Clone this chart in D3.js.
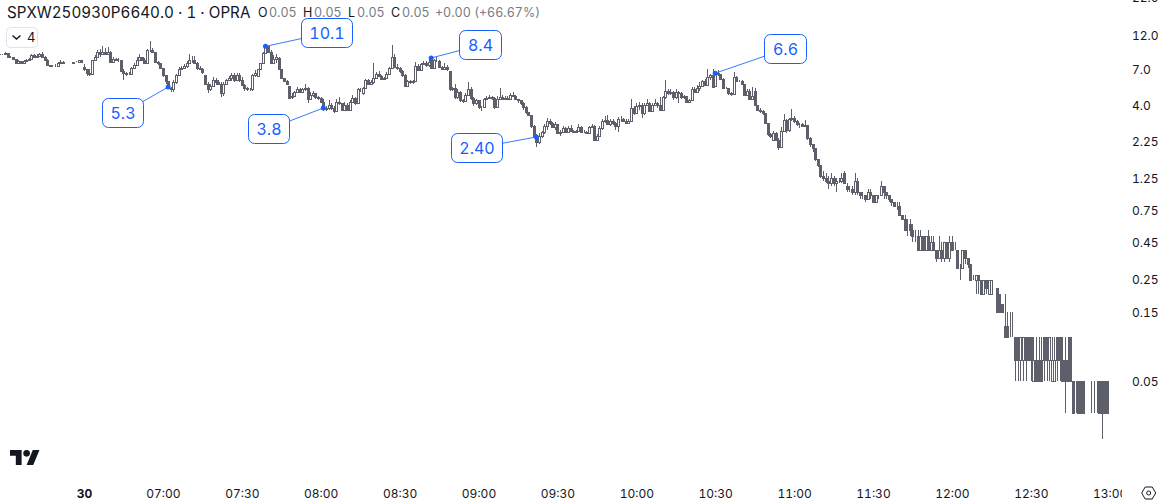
<!DOCTYPE html>
<html>
<head>
<meta charset="utf-8">
<script src="https://cdn.jsdelivr.net/npm/d3@7"></script>
<style>
  html, body { margin: 0; padding: 0; background: #fff; }
  svg { display: block; font-family: Inter, "Noto Sans", sans-serif; font-variant-numeric: tabular-nums; }
</style>
</head>
<body>
<div id="chart"></div>
<script>
// --- Data (1 minute bars, previous session tail first) ---
const firstBarMinute = -32; // bar 0 sits 32 minutes left of the 06:30 open

const opens = [
  8.9,8.9,8.9,9.1,8.6,8.5,8.3,7.8,8.0,7.8,
  8.0,8.2,8.3,8.8,8.6,8.7,8.9,8.6,8.2,7.5,
  7.4,7.4,7.4,7.8,7.9,7.8,7.7,7.7,7.8,7.9,
  7.9,8.1,7.3,7.0,6.6,6.5,8.1,8.6,9.3,8.9,
  9.2,9.0,9.2,7.9,8.3,8.1,8.2,6.8,6.6,6.5,
  6.5,7.2,7.5,8.2,8.5,8.2,7.8,9.5,9.6,9.3,
  7.9,7.7,7.2,6.4,5.8,5.2,5.1,5.7,6.4,7.0,
  7.2,7.4,7.7,8.2,8.1,7.8,7.2,7.1,6.4,5.6,
  5.1,5.4,5.9,5.7,5.6,4.8,5.6,5.9,6.1,6.4,
  5.9,6.4,5.9,5.5,5.2,5.1,5.1,6.4,6.3,7.0,
  7.7,9.1,10.1,9.3,7.7,8.3,8.4,7.0,6.1,5.8,
  5.4,4.5,4.6,4.9,5.1,4.9,5.1,5.2,4.4,4.7,
  4.8,4.55,4.45,4.2,3.75,3.8,4.0,3.8,3.6,4.2,
  4.1,3.7,4.0,3.7,4.2,4.45,4.1,5.1,4.8,5.2,
  5.9,5.6,5.7,6.1,6.5,6.35,6.0,6.1,6.5,7.2,
  8.5,7.3,7.2,6.8,6.4,5.4,5.8,5.7,5.8,7.4,
  6.9,7.6,7.8,7.5,8.4,7.2,8.1,8.0,7.3,7.0,
  7.3,6.8,5.1,5.2,4.55,4.9,4.3,4.25,4.7,5.1,
  4.45,4.1,4.3,3.85,3.85,4.4,4.45,4.5,4.45,3.85,
  4.4,4.55,4.4,4.45,4.4,4.7,4.6,4.4,4.3,4.1,
  3.85,3.55,3.4,2.85,2.45,2.2,2.45,2.6,2.85,3.1,
  3.0,2.8,2.95,2.55,2.6,2.75,2.6,2.75,2.65,2.6,
  2.65,2.8,2.6,2.6,2.55,2.8,2.85,2.3,2.45,2.75,
  3.1,3.15,2.95,3.1,3.0,2.85,3.2,3.2,3.1,3.0,
  3.1,3.8,3.5,3.9,4.0,3.5,4.0,4.1,3.6,4.0,
  4.1,4.0,3.7,4.5,5.0,4.8,4.9,4.5,4.9,4.8,
  4.5,4.6,4.2,4.3,5.1,4.9,5.2,5.4,5.8,5.5,
  6.2,6.4,5.4,6.6,6.5,6.0,5.2,5.2,4.8,4.75,
  6.2,5.85,5.8,5.6,4.7,5.0,4.4,5.0,4.0,3.7,
  3.65,3.5,3.0,2.5,2.3,2.55,2.3,2.05,2.65,3.15,
  2.7,3.2,3.25,3.1,2.95,2.95,2.85,2.9,2.35,2.15,
  2.0,1.7,1.55,1.3,1.25,1.2,1.15,1.25,1.15,1.2,
  1.2,1.35,1.1,1.05,1.05,1.0,1.2,1.0,0.95,0.95,
  0.9,1.0,0.95,0.85,0.95,0.95,1.1,1.0,0.95,0.9,
  0.85,0.8,0.8,0.7,0.65,0.55,0.6,0.55,0.5,0.5,
  0.4,0.5,0.4,0.5,0.4,0.45,0.4,0.35,0.4,0.35,
  0.45,0.35,0.45,0.4,0.4,0.3,0.3,0.4,0.35,0.32,
  0.25,0.25,0.27,0.25,0.2,0.25,0.2,0.2,0.25,0.22,
  0.2,0.17,0.12,0.12,0.1,0.1,0.1,0.1,0.07,0.07,
  0.1,0.1,0.1,0.05,0.07,0.07,0.07,0.1,0.1,0.07,
  0.05,0.05,0.1,0.1,0.07,0.07,0.07,0.1,0.05,0.05,
  0.05,0.05,0.05,0.03,0.03,0.03,0.05,0.03,0.05,0.05,
  0.05,0.05
];

const highs = [
  9.0,9.0,9.3,9.1,8.7,8.5,8.3,8.1,8.0,8.1,
  8.3,8.4,9.0,9.0,8.9,9.1,9.2,8.7,8.3,7.5,
  7.5,7.6,7.9,8.1,8.0,7.8,7.7,7.8,7.9,8.0,
  8.2,8.1,7.6,7.1,7.0,8.2,8.8,9.6,9.7,10.1,
  9.8,10.0,9.4,8.6,8.4,8.4,8.2,7.0,6.7,6.7,
  7.3,7.7,8.6,8.9,8.6,8.4,9.7,11.0,9.9,9.3,
  8.0,7.7,7.2,6.4,5.8,5.3,5.9,6.5,7.3,7.4,
  7.6,8.0,8.9,8.7,8.7,7.9,7.4,7.2,6.4,5.7,
  5.6,6.2,6.1,5.9,5.7,5.7,6.0,6.3,6.6,6.6,
  6.6,6.6,6.2,5.6,5.3,5.2,6.5,6.9,7.1,7.8,
  9.3,10.3,10.1,9.5,8.8,9.0,8.5,7.1,6.1,5.9,
  5.4,4.8,5.0,5.3,5.2,5.2,5.6,5.3,4.9,5.0,
  4.8,4.6,4.5,4.4,3.9,4.3,4.1,3.9,4.4,4.5,
  4.1,4.2,4.1,4.3,4.7,4.5,5.2,5.2,5.3,6.0,
  6.0,5.9,7.7,6.7,6.8,6.4,6.2,6.7,7.3,10.3,
  9.0,7.6,7.3,6.9,6.5,5.9,5.9,5.9,7.9,7.6,
  7.8,8.0,8.0,8.3,8.6,8.3,8.6,8.1,7.4,7.7,
  7.5,6.8,5.3,5.6,5.1,5.0,4.4,4.8,5.7,5.3,
  4.5,4.4,4.3,3.95,4.45,4.6,4.7,4.6,4.5,4.6,
  5.2,4.7,4.6,4.6,4.8,4.9,4.7,4.4,4.3,4.2,
  3.9,3.55,3.4,2.9,2.5,2.55,2.65,2.95,3.25,3.2,
  3.05,3.05,2.95,2.7,2.85,2.8,2.85,2.9,2.7,2.7,
  2.95,2.85,2.7,2.65,2.85,2.95,2.9,2.5,2.85,3.2,
  3.35,3.4,3.2,3.2,3.05,3.3,3.35,3.25,3.2,3.2,
  4.4,3.9,4.1,4.2,4.1,4.1,4.35,4.2,4.1,4.4,
  4.2,4.5,4.6,5.95,5.1,5.1,5.0,5.1,5.0,4.9,
  4.7,4.6,4.4,5.3,5.3,5.5,5.7,5.9,6.0,7.1,
  6.5,7.1,6.8,6.9,6.5,6.1,5.3,5.2,4.9,6.7,
  6.3,5.9,5.9,5.6,5.1,5.1,5.3,5.2,4.0,3.8,
  3.7,3.5,3.0,2.55,2.65,2.6,2.35,2.8,3.45,3.2,
  3.25,3.75,3.35,3.15,3.0,3.0,3.15,2.9,2.4,2.15,
  2.0,1.7,1.55,1.4,1.35,1.3,1.35,1.3,1.25,1.25,
  1.35,1.4,1.15,1.1,1.1,1.35,1.25,1.0,1.0,0.95,
  1.05,1.05,0.95,0.95,0.95,1.2,1.1,1.0,0.95,0.9,
  0.85,0.85,0.85,0.7,0.7,0.65,0.65,0.6,0.55,0.55,
  0.55,0.5,0.5,0.55,0.5,0.5,0.4,0.5,0.45,0.45,
  0.45,0.5,0.5,0.45,0.4,0.32,0.4,0.4,0.35,0.32,
  0.27,0.27,0.27,0.25,0.25,0.25,0.25,0.25,0.25,0.22,
  0.2,0.17,0.2,0.15,0.15,0.15,0.1,0.1,0.1,0.1,
  0.1,0.1,0.1,0.1,0.1,0.1,0.1,0.1,0.1,0.1,
  0.1,0.1,0.1,0.1,0.1,0.1,0.1,0.1,0.05,0.05,
  0.05,0.05,0.05,0.03,0.03,0.05,0.05,0.05,0.05,0.05,
  0.05,0.05
];

const lows = [
  8.8,8.8,8.8,8.6,8.4,8.2,7.7,7.7,7.6,7.7,
  7.9,8.1,8.3,8.5,8.5,8.6,8.5,8.1,7.4,7.3,
  7.3,7.3,7.4,7.7,7.7,7.7,7.7,7.7,7.8,7.9,
  7.8,7.8,6.8,6.3,6.3,6.5,8.0,8.5,8.5,8.8,
  8.8,8.9,7.7,7.8,8.0,7.9,6.7,5.9,6.3,6.4,
  6.5,7.1,7.4,8.1,8.0,7.6,7.8,9.3,9.1,7.8,
  7.5,7.0,6.2,5.6,5.1,4.9,4.9,5.6,6.3,6.9,
  7.0,7.2,7.6,7.8,7.6,6.9,6.9,6.5,5.5,4.8,
  5.0,5.3,5.5,5.5,4.55,4.6,5.5,5.8,5.8,5.7,
  5.8,5.7,5.4,5.0,5.0,5.0,5.0,6.2,6.2,6.9,
  7.6,8.9,9.1,7.6,7.6,7.7,7.0,6.0,5.8,5.5,
  4.4,4.35,4.5,4.8,4.8,4.8,5.0,4.1,4.3,4.5,
  4.4,4.3,4.1,3.65,3.65,3.7,3.7,3.5,3.6,4.0,
  3.6,3.7,3.7,3.7,4.2,4.0,4.1,4.9,4.7,5.1,
  5.5,5.5,5.6,6.0,6.2,5.9,5.9,6.0,6.5,7.1,
  7.2,6.9,6.6,6.2,5.3,5.3,5.6,5.6,5.8,6.8,
  6.9,7.5,7.3,7.3,7.0,7.1,7.9,7.2,6.9,6.9,
  6.8,5.0,5.0,4.4,4.4,4.2,4.1,4.2,4.6,4.3,
  3.95,4.0,3.75,3.65,3.8,4.3,4.4,4.3,3.75,3.8,
  4.3,4.3,4.3,4.3,4.3,4.5,4.3,4.1,4.0,3.7,
  3.45,3.35,2.75,2.35,2.05,2.15,2.35,2.5,2.7,2.9,
  2.75,2.7,2.5,2.45,2.55,2.55,2.55,2.6,2.55,2.55,
  2.6,2.55,2.55,2.5,2.5,2.75,2.25,2.25,2.4,2.7,
  3.0,2.9,2.85,2.9,2.7,2.6,3.05,3.05,2.95,2.95,
  3.05,3.4,3.45,3.7,3.25,3.4,3.9,3.55,3.55,3.9,
  3.8,3.6,3.65,4.4,4.7,4.7,4.3,4.4,4.1,4.4,
  4.35,4.1,4.1,4.25,4.8,4.8,5.0,5.3,5.4,5.5,
  5.9,5.2,5.3,6.3,5.9,5.2,5.1,4.7,4.6,4.7,
  5.7,5.7,5.5,4.6,4.6,4.3,4.3,3.95,3.65,3.5,
  3.4,2.95,2.45,2.35,2.25,2.3,1.95,2.0,2.6,2.55,
  2.6,3.1,3.0,2.85,2.75,2.8,2.8,2.3,2.05,1.9,
  1.65,1.5,1.25,1.2,1.15,1.05,1.1,1.1,1.0,1.15,
  1.15,1.15,1.0,1.0,0.95,0.95,0.95,0.9,0.9,0.85,
  0.9,0.9,0.85,0.85,0.9,0.95,0.9,0.9,0.85,0.8,
  0.8,0.75,0.7,0.65,0.55,0.5,0.5,0.45,0.45,0.4,
  0.4,0.4,0.4,0.4,0.4,0.4,0.33,0.35,0.33,0.33,
  0.35,0.33,0.4,0.4,0.3,0.25,0.3,0.32,0.3,0.25,
  0.25,0.2,0.2,0.2,0.2,0.2,0.2,0.2,0.25,0.15,
  0.15,0.15,0.1,0.1,0.1,0.1,0.05,0.05,0.05,0.05,
  0.05,0.07,0.05,0.05,0.05,0.05,0.05,0.05,0.05,0.05,
  0.05,0.05,0.05,0.05,0.05,0.03,0.05,0.05,0.03,0.03,
  0.03,0.03,0.03,0.03,0.03,0.03,0.03,0.03,0.03,0.02,
  0.03,0.03
];

const closes = [
  8.9,8.9,9.1,8.6,8.5,8.3,7.8,8.0,7.8,8.0,
  8.2,8.3,8.8,8.6,8.7,8.9,8.6,8.2,7.5,7.4,
  7.4,7.4,7.8,7.9,7.8,7.7,7.7,7.8,7.9,7.9,
  8.1,7.9,7.0,6.6,6.5,8.1,8.6,9.3,8.9,9.2,
  9.0,9.2,7.9,8.3,8.1,8.2,6.8,6.6,6.5,6.5,
  7.2,7.5,8.2,8.5,8.2,7.8,9.5,9.6,9.3,7.9,
  7.7,7.2,6.4,5.8,5.2,5.1,5.7,6.4,7.0,7.2,
  7.4,7.7,8.2,8.1,7.8,7.2,7.1,6.7,5.6,5.1,
  5.4,5.9,5.7,5.6,4.8,5.6,5.9,6.1,6.4,5.9,
  6.4,5.9,5.5,5.2,5.1,5.1,6.4,6.6,7.0,7.7,
  9.1,10.1,9.3,7.7,8.3,8.6,7.1,6.1,5.8,5.6,
  4.45,4.6,4.9,5.1,4.9,5.1,5.2,4.4,4.7,4.8,
  4.55,4.45,4.2,3.75,3.8,4.0,3.8,3.6,4.2,4.1,
  3.7,4.0,3.7,4.2,4.45,4.1,5.1,5.1,5.2,5.9,
  5.6,5.7,6.1,6.5,6.35,6.0,6.1,6.5,7.2,8.5,
  7.3,7.2,6.8,6.4,5.4,5.8,5.7,5.8,7.4,6.9,
  7.6,7.8,7.5,7.9,7.2,8.1,8.2,7.3,7.0,7.3,
  7.0,5.1,5.2,4.55,4.9,4.3,4.25,4.7,5.1,4.45,
  4.1,4.3,3.85,3.85,4.4,4.45,4.5,4.45,3.85,4.4,
  4.55,4.4,4.45,4.4,4.7,4.6,4.4,4.3,4.1,3.85,
  3.55,3.4,2.85,2.45,2.2,2.45,2.6,2.85,3.1,3.0,
  2.8,2.95,2.55,2.6,2.75,2.6,2.75,2.65,2.6,2.65,
  2.8,2.6,2.6,2.55,2.8,2.85,2.3,2.45,2.75,3.1,
  3.15,2.95,3.1,3.0,2.85,3.2,3.2,3.1,3.0,3.1,
  3.8,3.5,3.9,4.0,3.5,4.0,4.1,3.6,4.0,4.1,
  4.0,3.7,4.5,5.0,4.8,4.9,4.5,4.9,4.8,4.5,
  4.6,4.2,4.3,5.1,4.9,5.2,5.4,5.8,5.5,6.2,
  6.4,5.3,6.6,6.5,6.0,5.2,5.2,4.8,4.75,6.2,
  5.85,5.8,5.6,4.7,5.0,4.4,4.6,4.0,3.7,3.65,
  3.5,3.0,2.5,2.45,2.55,2.3,2.05,2.65,3.15,2.7,
  3.2,3.25,3.1,2.95,2.95,2.85,2.9,2.35,2.15,2.0,
  1.7,1.55,1.3,1.25,1.2,1.15,1.25,1.15,1.2,1.2,
  1.25,1.15,1.05,1.05,1.0,1.2,1.0,0.95,0.95,0.9,
  1.0,0.95,0.85,0.95,0.95,1.1,1.0,0.95,0.9,0.85,
  0.8,0.8,0.7,0.65,0.55,0.55,0.55,0.5,0.5,0.4,
  0.5,0.4,0.5,0.4,0.45,0.4,0.35,0.4,0.35,0.45,
  0.35,0.45,0.4,0.4,0.3,0.3,0.4,0.35,0.32,0.25,
  0.25,0.27,0.25,0.2,0.25,0.22,0.25,0.25,0.25,0.15,
  0.15,0.15,0.1,0.1,0.1,0.1,0.07,0.07,0.1,0.1,
  0.07,0.07,0.07,0.07,0.05,0.05,0.05,0.07,0.07,0.1,
  0.07,0.07,0.07,0.07,0.05,0.05,0.05,0.05,0.03,0.05,
  0.03,0.03,0.03,0.03,0.03,0.03,0.05,0.03,0.03,0.03,
  0.03,0.03
];

const priceTicks = [22, 12, 7, 4, 2.25, 1.25, 0.75, 0.45, 0.25, 0.15, 0.05];
const timeTicks = [0, 30, 60, 90, 120, 150, 180, 210, 240, 270, 300, 330, 360, 390];
const timeLabels = ["30", "07:00", "07:30", "08:00", "08:30", "09:00", "09:30", "10:00", "10:30", "11:00", "11:30", "12:00", "12:30", "13:00"];

const calloutBars = [64, 101, 123, 164, 204, 272];
const calloutPrices = [5.3, 10.1, 3.8, 8.4, 2.40, 6.6];
const calloutLabels = ["5.3", "10.1", "3.8", "8.4", "2.40", "6.6"];

const headerTitle = "SPXW250930P6640.0 · 1 · OPRA";
const ohlcLabels = ["O", "H", "L", "C"];
const ohlcValues = ["0.05", "0.05", "0.05", "0.05"];
const changeLabel = "+0.00 (+66.67%)";

// --- Layout ---
const width = 1168, height = 504;
const candleColor = "#5d606b";
const blue = "#1760ff";
const ink = "#131722";
// box centre relative to the marker, box width
const calloutDx = [-46, 61.5, -54.5, 49, -59.5, 70];
const calloutDy = [25, -13.5, 20.5, -13, 10.5, -25];
const calloutW = [41, 51, 41, 42, 51, 42];
const calloutH = 29;

const svg = d3.select("#chart").append("svg").attr("width", width).attr("height", height);

const x = d3.scaleLinear().domain([0, 390]).range([84, 1109.7]);
const y = d3.scaleLog().domain([0.05, 12]).range([381, 35.5]);
const barX = i => Math.round(x(firstBarMinute + i));

// --- Candles ---
const bars = d3.range(closes.length);
const candles = svg.append("g").selectAll("g").data(bars).join("g");

candles.append("line")
  .attr("x1", i => barX(i) + 0.5).attr("x2", i => barX(i) + 0.5)
  .attr("y1", i => Math.round(y(highs[i])))
  .attr("y2", i => Math.round(y(lows[i])))
  .attr("stroke", candleColor).attr("shape-rendering", "crispEdges");

candles.append("rect")
  .attr("x", i => barX(i) - 0.5)
  .attr("width", 2)
  .attr("y", i => Math.round(y(Math.max(opens[i], closes[i]))) + 0.5)
  .attr("height", i => Math.round(y(Math.min(opens[i], closes[i]))) - Math.round(y(Math.max(opens[i], closes[i]))))
  .attr("fill", i => closes[i] >= opens[i] ? "#fff" : candleColor)
  .attr("stroke", candleColor).attr("shape-rendering", "crispEdges");

// --- Callouts ---
const pinX = k => x(firstBarMinute + calloutBars[k]);
const pinY = k => y(calloutPrices[k]);
const boxLeft = k => Math.round(pinX(k) + calloutDx[k] - calloutW[k] / 2) + 0.5;
const boxTop = k => Math.round(pinY(k) + calloutDy[k] - calloutH / 2) + 0.5;

const callouts = svg.append("g").selectAll("g").data(calloutBars).join("g");

callouts.append("line")
  .attr("x1", (b, k) => pinX(k)).attr("y1", (b, k) => pinY(k))
  .attr("x2", (b, k) => boxLeft(k) + calloutW[k] / 2).attr("y2", (b, k) => boxTop(k) + calloutH / 2)
  .attr("stroke", blue).attr("stroke-opacity", 0.85);

callouts.append("circle")
  .attr("cx", (b, k) => pinX(k)).attr("cy", (b, k) => pinY(k))
  .attr("r", 2.5).attr("fill", blue);

callouts.append("rect")
  .attr("x", (b, k) => boxLeft(k))
  .attr("y", (b, k) => boxTop(k))
  .attr("width", (b, k) => calloutW[k])
  .attr("height", calloutH)
  .attr("rx", 6)
  .attr("fill", "#fff").attr("stroke", blue);

callouts.append("text")
  .attr("x", (b, k) => boxLeft(k) + calloutW[k] / 2).attr("y", (b, k) => boxTop(k) + calloutH / 2)
  .attr("dy", "0.36em")
  .attr("text-anchor", "middle")
  .attr("font-size", 16).attr("fill", blue)
  .text((b, k) => calloutLabels[k]);

// --- Axes ---
const yAxis = d3.axisRight(y)
  .tickValues(priceTicks)
  .tickSize(0).tickPadding(0)
  .tickFormat(d => d >= 4 ? d.toFixed(1) : d.toFixed(2));
const yG = svg.append("g").attr("transform", "translate(1132,0.5)").call(yAxis);

svg.append("clipPath").attr("id", "timeClip")
  .append("rect").attr("x", 0).attr("y", 470).attr("width", 1122).attr("height", 34);

const xAxis = d3.axisBottom(x)
  .tickValues(timeTicks)
  .tickSize(0).tickPadding(0)
  .tickFormat((d, i) => timeLabels[i]);
const xG = svg.append("g").attr("clip-path", "url(#timeClip)")
  .append("g").attr("transform", "translate(0,489)").call(xAxis);

[yG, xG].forEach(g => {
  g.select(".domain").remove();
  g.attr("font-family", null).attr("font-size", 12);
  g.selectAll("text").attr("fill", ink);
});
xG.selectAll(".tick text").filter((d, i) => i === 0).attr("font-weight", 700);

// --- Header ---
svg.append("text").attr("x", 7).attr("y", 18).attr("font-size", 15.2).attr("fill", ink).text(headerTitle);

const ohlcX = [258, 303, 348, 391];
const ohlcG = svg.append("g").attr("font-size", 12.5);
ohlcLabels.forEach((l, k) => {
  ohlcG.append("text").attr("x", ohlcX[k]).attr("y", 17).attr("fill", ink).text(l);
  ohlcG.append("text").attr("x", ohlcX[k] + (k === 2 ? 9 : 11)).attr("y", 17).attr("fill", "#787b86").text(ohlcValues[k]);
});
ohlcG.append("text").attr("x", 435).attr("y", 17).attr("fill", "#787b86").text(changeLabel);

// collapse button
svg.append("rect").attr("x", 6.5).attr("y", 27.5).attr("width", 31).attr("height", 20).attr("rx", 4)
  .attr("fill", "#fff").attr("stroke", "#e0e3eb");
svg.append("path").attr("d", "M12.5 35.5l4 3.5 4-3.5").attr("fill", "none").attr("stroke", ink).attr("stroke-width", 1.4);
svg.append("text").attr("x", 27).attr("y", 42).attr("font-size", 13).attr("fill", ink).text("4");

// logo
svg.append("g").attr("transform", "translate(10,446.7) scale(0.83)").attr("fill", ink)
  .call(g => {
    g.append("path").attr("d", "M14 22H7V11H0V4h14v18zM28 22h-8l7.5-18h8L28 22z");
    g.append("circle").attr("cx", 20).attr("cy", 8).attr("r", 4);
  });

// settings icon
svg.append("path").attr("d", "M1141.7 493l3.5-6h7l3.5 6-3.5 6h-7z").attr("fill", "none").attr("stroke", ink);
svg.append("circle").attr("cx", 1148.7).attr("cy", 493).attr("r", 2).attr("fill", "none").attr("stroke", ink);
</script>
</body>
</html>
